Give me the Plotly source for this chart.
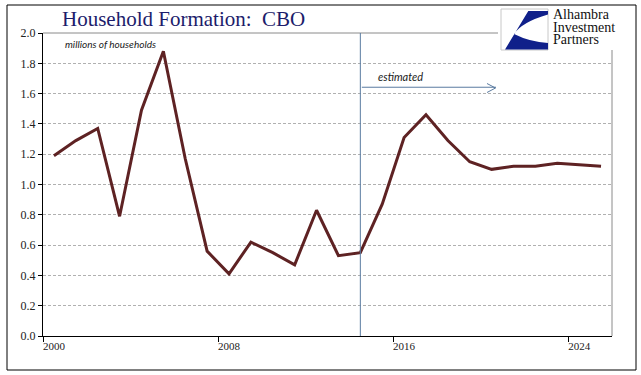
import plotly.graph_objects as go

# ---- data ----
years = [str(y) for y in range(2000, 2026)]
households = [1.19, 1.29, 1.37, 0.79, 1.49, 1.88, 1.17, 0.56, 0.41, 0.62,
              0.55, 0.47, 0.83, 0.53, 0.55, 0.87, 1.31, 1.46, 1.29, 1.15,
              1.10, 1.12, 1.12, 1.14, 1.13, 1.12]
estimate_start = "2014"
y_ticks = [0.0, 0.2, 0.4, 0.6, 0.8, 1.0, 1.2, 1.4, 1.6, 1.8, 2.0]

W, H = 641, 375
L, R, T, B = 43, 29, 33, 39
PW, PH = W - L - R, H - T - B


def px(x):
    return (x - L) / PW


def py(y):
    return (H - B - y) / PH


fig = go.Figure()
fig.add_trace(go.Scatter(
    x=years, y=households, mode="lines",
    line=dict(color="#5e2223", width=3),
    hoverinfo="x+y", showlegend=False,
))

est_idx = years.index(estimate_start)

shapes = []
# outer frame
shapes.append(dict(type="rect", xref="paper", yref="paper",
                   x0=px(7), x1=px(636), y0=py(370), y1=py(5),
                   line=dict(color="black", width=1), fillcolor="rgba(0,0,0,0)"))
# top + right plot border (gray)
shapes.append(dict(type="line", xref="paper", yref="paper",
                   x0=0, x1=px(498), y0=1, y1=1, line=dict(color="#8a8a8a", width=1)))
shapes.append(dict(type="line", xref="paper", yref="paper",
                   x0=1, x1=1, y0=0, y1=py(50), line=dict(color="#8a8a8a", width=1)))
# estimate divider
shapes.append(dict(type="line", xref="x", yref="paper",
                   x0=est_idx, x1=est_idx, y0=0, y1=1,
                   line=dict(color="#5a7ba0", width=1)))
# logo box
shapes.append(dict(type="rect", xref="paper", yref="paper",
                   x0=px(501), x1=px(548), y0=py(50), y1=py(9),
                   line=dict(color="#c8c8c8", width=1), fillcolor="white"))
# logo swoosh
path = "M {:.4f},{:.4f} L {:.4f},{:.4f} L {:.4f},{:.4f} ".format(
    px(528.3), py(11), px(548), py(11), px(548), py(14.5))
path += "Q {:.4f},{:.4f} {:.4f},{:.4f} ".format(px(522), py(22), px(514), py(34))
path += "Q {:.4f},{:.4f} {:.4f},{:.4f} ".format(px(530), py(42), px(548), py(43))
path += "L {:.4f},{:.4f} L {:.4f},{:.4f} Z".format(px(548), py(49.5), px(505), py(49.5))
shapes.append(dict(type="path", xref="paper", yref="paper", path=path,
                   fillcolor="#10208a", line=dict(width=0)))
# chevron of arrow
shapes.append(dict(type="path", xref="paper", yref="paper",
                   path="M {:.4f},{:.4f} L {:.4f},{:.4f} L {:.4f},{:.4f}".format(
                       px(487), py(83.5), px(495.5), py(88), px(487), py(92.5)),
                   line=dict(color="#5a7ba0", width=1)))

annotations = [
    dict(text="Household Formation:  CBO", xref="paper", yref="paper",
         x=px(60), y=py(19), xanchor="left", yanchor="middle", showarrow=False,
         font=dict(family="Liberation Serif", size=21, color="#1c1c6b")),
    dict(text="<i>millions of households</i>", xref="paper", yref="paper",
         x=px(63), y=py(44), xanchor="left", yanchor="middle", showarrow=False,
         font=dict(family="Lato", size=10, color="#1a1a1a")),
    dict(text="<i>estimated</i>", xref="paper", yref="paper",
         x=px(376), y=py(76), xanchor="left", yanchor="middle", showarrow=False,
         font=dict(family="Lato", size=11, color="#1a1a1a")),
    dict(text="", x=20.2, y=1.642, xref="x", yref="y",
         ax=est_idx, ay=1.642, axref="x", ayref="y",
         showarrow=True, arrowhead=0, arrowwidth=1, arrowcolor="#5a7ba0"),
]
for word, yy in [("Alhambra", 15), ("Investment", 27.5), ("Partners", 40)]:
    annotations.append(dict(text=word, xref="paper", yref="paper",
                            x=px(551), y=py(yy), xanchor="left", yanchor="middle",
                            showarrow=False,
                            font=dict(family="Liberation Serif", size=14, color="#111")))

fig.update_layout(
    width=W, height=H,
    margin=dict(l=L, r=R, t=T, b=B, pad=0),
    paper_bgcolor="white", plot_bgcolor="white",
    shapes=shapes, annotations=annotations,
    xaxis=dict(type="category", range=[-0.5, len(years) - 0.5],
               tickson="boundaries", tickmode="linear", tick0=0, dtick=8,
               ticks="outside", ticklen=5, tickcolor="black", tickangle=0,
               showline=True, linecolor="black", linewidth=1,
               showgrid=False, zeroline=False, automargin=False,
               tickfont=dict(family="Liberation Serif", size=11, color="#222")),
    yaxis=dict(range=[0, 2], tickvals=y_ticks, tickformat=".1f",
               ticks="outside", ticklen=4, tickcolor="black",
               showline=True, linecolor="black", linewidth=1,
               showgrid=True, gridcolor="#b0b0b0", griddash="3px,2px", gridwidth=1,
               zeroline=False, automargin=False,
               tickfont=dict(family="Liberation Serif", size=12, color="#222")),
)

fig.write_html("out.html", config={"displayModeBar": False},
               post_script="document.body.style.margin='0px';")
